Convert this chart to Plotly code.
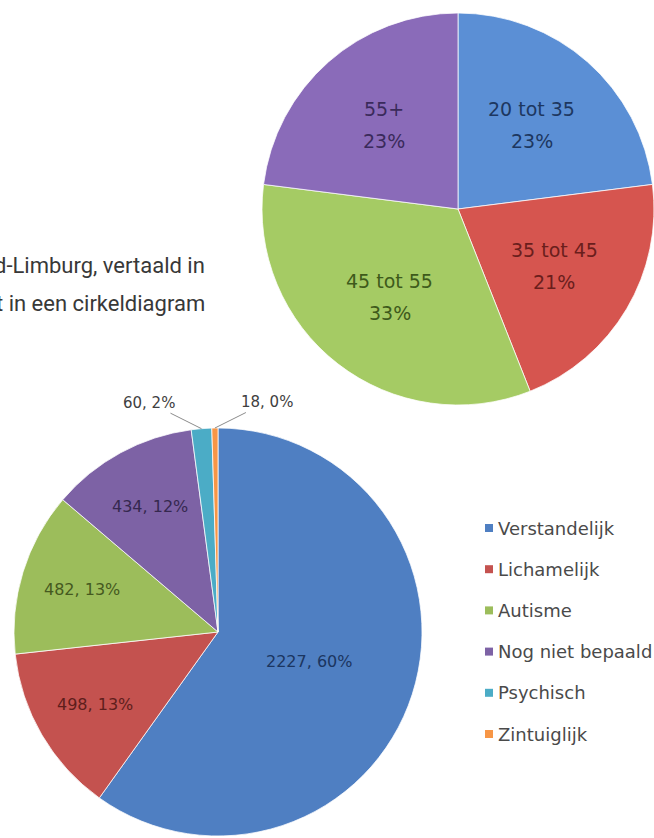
import math
import plotly.graph_objects as go

W, H = 654, 838

# ---- data: top pie (age groups) ----
age_labels = ["20 tot 35", "35 tot 45", "45 tot 55", "55+"]
age_values = [23, 21, 33, 23]
age_colors = ["#5B8FD5", "#D6554F", "#A5CB64", "#8A6BB9"]
age_text_colors = ["#1D3760", "#6A1E1C", "#3E5A1B", "#3A2A5B"]

# ---- data: bottom pie (type of disability) ----
type_labels = ["Verstandelijk", "Lichamelijk", "Autisme", "Nog niet bepaald", "Psychisch", "Zintuiglijk"]
type_values = [2227, 498, 482, 434, 60, 18]
type_colors = ["#4F7FC2", "#C4524F", "#9CBD5B", "#7D62A5", "#4BACC6", "#F79646"]
type_text_colors = ["#1B3560", "#5E1E1C", "#45591F", "#35284F", "#404040", "#404040"]

para_lines = ["d-Limburg, vertaald in", "t in een cirkeldiagram"]

# ---- layout geometry (pixels) ----
TOP = dict(cx=458, cy=209, r=196)
BOT = dict(cx=218, cy=632, r=204)


def clamp(v):
    return min(1.0, max(0.0, v))


def domain(g):
    return dict(x=[clamp((g["cx"] - g["r"]) / W), clamp((g["cx"] + g["r"]) / W)],
                y=[clamp(1 - (g["cy"] + g["r"]) / H), clamp(1 - (g["cy"] - g["r"]) / H)])


def wedge_px(values, i, g, f):
    tot = sum(values)
    cum = sum(values[:i]) + values[i] / 2.0
    a = 2 * math.pi * cum / tot
    return g["cx"] + f * g["r"] * math.sin(a), g["cy"] - f * g["r"] * math.cos(a)


def paper(px, py):
    return px / W, 1 - py / H


fig = go.Figure()

fig.add_trace(go.Pie(
    labels=age_labels, values=age_values, sort=False, direction="clockwise",
    rotation=0, domain=domain(TOP), textinfo="none", hoverinfo="label+percent",
    marker=dict(colors=age_colors, line=dict(color="rgba(255,255,255,0.75)", width=1)),
    showlegend=False,
))

fig.add_trace(go.Pie(
    labels=type_labels, values=type_values, sort=False, direction="clockwise",
    rotation=0, domain=domain(BOT), textinfo="none", hoverinfo="label+value+percent",
    marker=dict(colors=type_colors, line=dict(color="rgba(255,255,255,0.75)", width=1)),
    showlegend=False,
))

annotations = []
LABEL_FONT = "DejaVu Sans"

# top pie labels (two lines each)
for i, (lab, v) in enumerate(zip(age_labels, age_values)):
    px, py = wedge_px(age_values, i, TOP, 0.57)
    pct = round(100 * v / sum(age_values))
    for txt, dy in ((lab, -16), (f"{pct}%", 16)):
        x, y = paper(px, py + dy)
        annotations.append(dict(x=x, y=y, xref="paper", yref="paper", text=txt,
                                showarrow=False, xanchor="center", yanchor="middle",
                                font=dict(family=LABEL_FONT, size=19, color=age_text_colors[i])))

# bottom pie labels
tot = sum(type_values)
for i, (lab, v) in enumerate(zip(type_labels, type_values)):
    pct = round(100 * v / tot)
    txt = f"{v}, {pct}%"
    share = v / tot
    if share > 0.05:
        f = 0.47 if share > 0.5 else 0.70
        x, y = paper(*wedge_px(type_values, i, BOT, f))
        annotations.append(dict(x=x, y=y, xref="paper", yref="paper", text=txt,
                                showarrow=False, xanchor="center", yanchor="middle",
                                font=dict(family=LABEL_FONT, size=16, color=type_text_colors[i])))
    else:
        x, y = paper(*wedge_px(type_values, i, BOT, 1.0))
        side = -1 if i == 4 else 1
        annotations.append(dict(x=x, y=y, xref="paper", yref="paper", text=txt,
                                showarrow=True, arrowhead=0, arrowwidth=1, arrowcolor="#8c8c8c",
                                ax=side * 52, ay=-26, standoff=0,
                                font=dict(family=LABEL_FONT, size=15, color="#404040")))

# paragraph fragment (cropped page text)
for j, line in enumerate(para_lines):
    x, y = paper(207, 265 + 38 * j)
    annotations.append(dict(x=x, y=y, xref="paper", yref="paper",
                            text=line, showarrow=False, xanchor="right", yanchor="middle",
                            font=dict(family="Roboto", size=22, color="#383838")))

# legend
shapes = []
for i, lab in enumerate(type_labels):
    yc = 528 + 41.2 * i
    x0, y0 = paper(485, yc + 4)
    x1, y1 = paper(493, yc - 4)
    shapes.append(dict(type="rect", xref="paper", yref="paper",
                       x0=x0, x1=x1, y0=y0, y1=y1,
                       fillcolor=type_colors[i], line=dict(width=0)))
    x, y = paper(496, yc)
    annotations.append(dict(x=x, y=y, xref="paper", yref="paper",
                            text=lab, showarrow=False, xanchor="left", yanchor="middle",
                            font=dict(family=LABEL_FONT, size=18, color="#4a4a4a")))

fig.update_layout(
    width=W, height=H, autosize=False,
    margin=dict(l=0, r=0, t=0, b=0),
    paper_bgcolor="white", plot_bgcolor="white",
    showlegend=False,
    annotations=annotations, shapes=shapes,
)

fig.write_html("out.html", config={"displayModeBar": False},
               post_script="document.body.style.margin='0px';document.body.style.overflow='hidden';")
